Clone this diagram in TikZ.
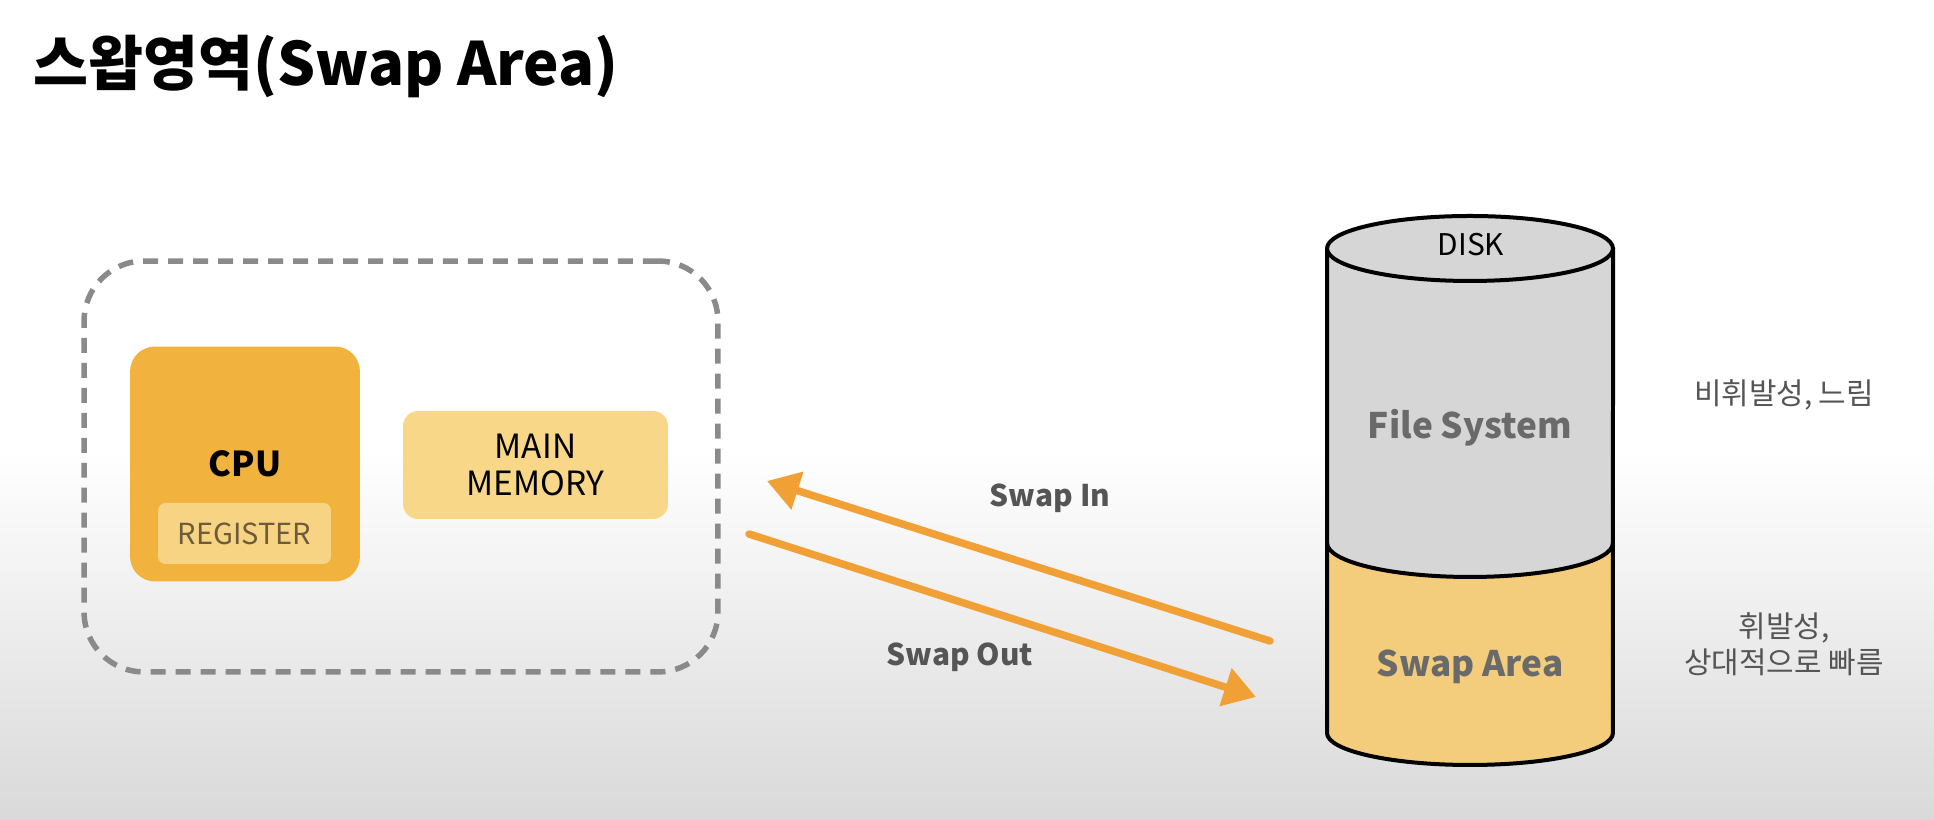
\documentclass[tikz,border=0pt]{standalone}
\usepackage{fontspec}
\setmainfont{Noto Sans CJK KR}
\usepackage{xcolor}
\usetikzlibrary{
    arrows.meta
}
\definecolor{dashgray}{HTML}{8A8A8A}
\definecolor{cpuorange}{HTML}{F2B23E}
\definecolor{regyellow}{HTML}{F7D384}
\definecolor{regtext}{HTML}{6E5B3A}
\definecolor{memyellow}{HTML}{F8D888}
\definecolor{arroworange}{HTML}{F0A035}
\definecolor{labelgray}{HTML}{555555}
\definecolor{diskgray}{HTML}{D6D6D6}
\definecolor{swapyellow}{HTML}{F3CD7C}
\definecolor{disktext}{HTML}{6A6A6A}
\definecolor{bottomgray}{HTML}{D9D9D9}
\tikzset{
    unitbox/.style={rectangle, align=center, inner sep=0cm},
    swaparrow/.style={draw=arroworange, line width=0.15cm, line cap=round, ->, >={Triangle[length=6.4mm, width=7.6mm]}},
    swaplabel/.style={text=labelgray, font=\fontsize{17}{20}\selectfont\bfseries},
    sidenote/.style={align=center, text=labelgray, font=\fontsize{17}{20.5}\selectfont}
}

\begin{document}
\begin{tikzpicture}[x=0.02cm, y=0.02cm]
                \useasboundingbox (0,0) rectangle (1934,820);
                \fill[white] (0,0) rectangle (1934,820);
                \shade[top color=white, bottom color=bottomgray] (0,0) rectangle (1934,370);

                \node[anchor=base west, inner sep=0cm, font=\fontsize{34}{40}\selectfont\bfseries] (title) at (33,734) {스왑영역(Swap Area)};

                \node[unitbox, draw=dashgray, line width=0.11cm, dash pattern=on 0.3cm off 0.2cm, rounded corners=1.2cm, minimum width=12.68cm, minimum height=8.22cm] (memory group) at (401,353.5) {};
                \node[unitbox, fill=cpuorange, rounded corners=0.5cm, minimum width=4.6cm, minimum height=4.7cm, font=\fontsize{19.5}{22}\selectfont\bfseries] (cpu) at (245,356) {CPU};
                \node[unitbox, fill=regyellow, rounded corners=0.15cm, minimum width=3.46cm, minimum height=1.22cm, text=regtext, font=\fontsize{16.5}{18}\selectfont] (register) at (244.5,286.5) {REGISTER};
                \node[unitbox, fill=memyellow, rounded corners=0.3cm, minimum width=5.3cm, minimum height=2.16cm, font=\fontsize{19}{21.5}\selectfont] (main memory) at (535.5,355) {MAIN\\MEMORY};

                \fill[diskgray] (1327,572) -- (1327,277) arc[start angle=180, end angle=360, x radius=2.86cm, y radius=0.68cm] -- (1613,572) -- cycle;
                \fill[swapyellow] (1327,277) arc[start angle=180, end angle=360, x radius=2.86cm, y radius=0.68cm] -- (1613,87) arc[start angle=0, end angle=-180, x radius=2.86cm, y radius=0.64cm] -- cycle;
                \draw[line width=0.08cm] (1327,572) -- (1327,87) arc[start angle=180, end angle=360, x radius=2.86cm, y radius=0.64cm] -- (1613,572);
                \draw[line width=0.08cm] (1327,277) arc[start angle=180, end angle=360, x radius=2.86cm, y radius=0.68cm];
                \draw[line width=0.08cm, fill=diskgray] (1470,571.5) ellipse[x radius=2.86cm, y radius=0.65cm];

                \node[font=\fontsize{17}{20}\selectfont] (disk) at (1471,575) {DISK};
                \node[text=disktext, font=\fontsize{20}{24}\selectfont\bfseries] (file system) at (1470,392) {File System};
                \node[text=disktext, font=\fontsize{20}{24}\selectfont\bfseries] (swap area) at (1470,153) {Swap Area};

                \node[sidenote] (slow note) at (1784,425) {비휘발성, 느림};
                \node[sidenote] (fast note) at (1784,176) {휘발성,\\상대적으로 빠름};

                \coordinate (swap in start) at (1270,179);
                \coordinate (swap in end) at (767,339);
                \coordinate (swap out start) at (749,286);
                \coordinate (swap out end) at (1256,123);
                \draw[swaparrow] (swap in start)--(swap in end);
                \draw[swaparrow] (swap out start)--(swap out end);

                \node[swaplabel] (swap in) at (1050,322) {Swap In};
                \node[swaplabel] (swap out) at (960,163) {Swap Out};
            \end{tikzpicture}
\end{document}
